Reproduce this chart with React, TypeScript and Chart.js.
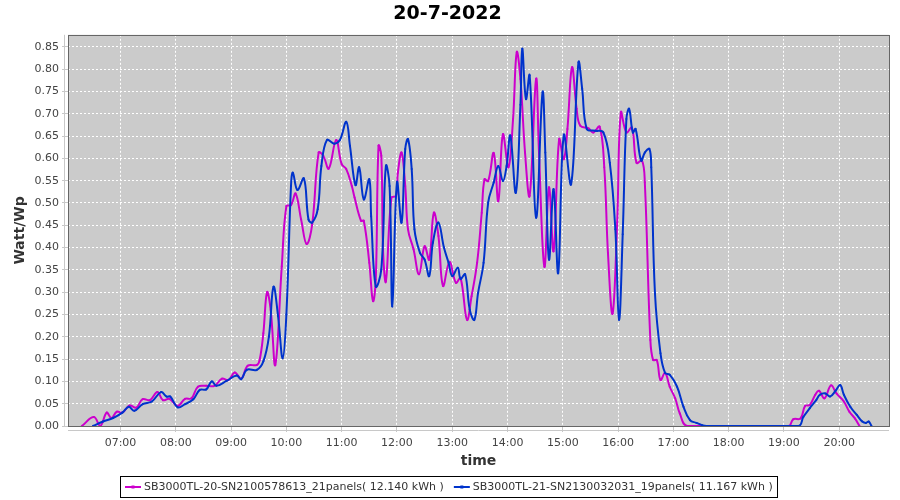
import React, { useEffect, useRef } from "react";
import { Chart, registerables } from "chart.js";

Chart.register(...registerables);

const TITLE = "20-7-2022";
const SERIES_A_LABEL = "SB3000TL-20-SN2100578613_21panels( 12.140 kWh )";
const SERIES_B_LABEL = "SB3000TL-21-SN2130032031_19panels( 11.167 kWh )";

// minutes since midnight
const TIMES_A = [378, 391, 398, 405, 410, 416, 422, 430, 437, 444, 452, 460, 466, 473, 482, 490, 497, 504, 513, 522, 530, 537, 544, 551, 558, 568, 571, 575, 579, 583, 588, 595, 600, 605, 610, 616, 622, 628, 635, 640, 646, 654, 660, 665, 671, 674, 681, 684, 690, 694, 697, 700, 703, 705, 708, 714, 719, 721, 725, 729, 732, 738, 744, 750, 755, 760, 765, 770, 777, 784, 789, 796, 801, 807, 812, 815, 819, 825, 830, 835, 841, 846, 850, 854, 859, 864, 871, 874, 880, 885, 890, 896, 901, 905, 910, 915, 919, 928, 933, 940, 945, 949, 954, 959, 963, 969, 975, 980, 986, 989, 995, 998, 1002, 1006, 1011, 1016, 1022, 1027, 1035, 1090, 1145, 1150, 1158, 1163, 1168, 1174, 1178, 1184, 1191, 1197, 1205, 1211, 1217, 1222];
const VALUES_A = [0, 0.02, 0, 0.03, 0.018, 0.032, 0.03, 0.046, 0.041, 0.06, 0.058, 0.076, 0.058, 0.061, 0.045, 0.061, 0.062, 0.088, 0.09, 0.09, 0.106, 0.103, 0.12, 0.106, 0.135, 0.137, 0.148, 0.208, 0.3, 0.26, 0.137, 0.358, 0.493, 0.495, 0.521, 0.463, 0.408, 0.452, 0.613, 0.606, 0.577, 0.641, 0.587, 0.576, 0.538, 0.512, 0.46, 0.46, 0.366, 0.28, 0.328, 0.628, 0.606, 0.388, 0.324, 0.512, 0.516, 0.568, 0.613, 0.538, 0.441, 0.396, 0.34, 0.403, 0.373, 0.478, 0.426, 0.314, 0.368, 0.321, 0.332, 0.238, 0.291, 0.366, 0.478, 0.553, 0.549, 0.612, 0.504, 0.654, 0.58, 0.688, 0.838, 0.778, 0.613, 0.516, 0.778, 0.621, 0.357, 0.535, 0.392, 0.643, 0.598, 0.666, 0.804, 0.711, 0.673, 0.667, 0.658, 0.671, 0.58, 0.388, 0.252, 0.456, 0.703, 0.658, 0.669, 0.59, 0.595, 0.546, 0.193, 0.148, 0.148, 0.103, 0.119, 0.088, 0.062, 0.028, 0, 0, 0, 0.015, 0.017, 0.045, 0.047, 0.07, 0.079, 0.062, 0.091, 0.073, 0.055, 0.032, 0.017, 0];

const TIMES_B = [390, 401, 412, 422, 429, 435, 444, 454, 464, 470, 474, 482, 490, 499, 506, 513, 519, 524, 535, 546, 551, 557, 568, 575, 581, 586, 591, 596, 600, 605, 607, 612, 619, 624, 628, 634, 638, 644, 652, 658, 665, 669, 675, 679, 684, 690, 692, 697, 703, 708, 712, 715, 720, 725, 729, 732, 736, 739, 745, 750, 755, 759, 765, 771, 776, 780, 786, 789, 794, 799, 804, 808, 814, 819, 825, 830, 835, 839, 843, 849, 854, 856, 860, 864, 871, 878, 881, 885, 890, 895, 901, 909, 917, 921, 926, 935, 944, 951, 957, 961, 965, 969, 972, 976, 979, 985, 989, 994, 996, 1000, 1006, 1011, 1016, 1024, 1031, 1038, 1045, 1051, 1056, 1105, 1156, 1161, 1168, 1175, 1179, 1185, 1190, 1196, 1201, 1205, 1212, 1219, 1225, 1229, 1232, 1235];
const VALUES_B = [0, 0.01, 0.018, 0.03, 0.043, 0.034, 0.049, 0.055, 0.076, 0.066, 0.066, 0.042, 0.049, 0.06, 0.081, 0.082, 0.1, 0.09, 0.101, 0.113, 0.105, 0.126, 0.126, 0.145, 0.2, 0.312, 0.246, 0.152, 0.25, 0.538, 0.568, 0.529, 0.555, 0.463, 0.456, 0.486, 0.583, 0.641, 0.633, 0.641, 0.682, 0.628, 0.54, 0.58, 0.508, 0.553, 0.47, 0.313, 0.351, 0.583, 0.538, 0.268, 0.546, 0.456, 0.621, 0.643, 0.576, 0.441, 0.388, 0.373, 0.336, 0.411, 0.456, 0.4, 0.366, 0.336, 0.355, 0.33, 0.34, 0.261, 0.238, 0.298, 0.366, 0.501, 0.546, 0.583, 0.549, 0.583, 0.651, 0.523, 0.72, 0.846, 0.733, 0.786, 0.467, 0.748, 0.613, 0.373, 0.531, 0.343, 0.652, 0.542, 0.815, 0.756, 0.666, 0.662, 0.658, 0.59, 0.441, 0.238, 0.43, 0.688, 0.711, 0.658, 0.666, 0.595, 0.613, 0.621, 0.58, 0.298, 0.163, 0.119, 0.115, 0.088, 0.043, 0.013, 0.007, 0.002, 0, 0, 0, 0.02, 0.04, 0.058, 0.07, 0.073, 0.066, 0.079, 0.092, 0.07, 0.043, 0.025, 0.01, 0.007, 0.01, 0];

const HOUR_TICKS = [7, 8, 9, 10, 11, 12, 13, 14, 15, 16, 17, 18, 19, 20];
const X_MIN = 363;
const X_MAX = 1254;
const Y_MIN = 0;
const Y_MAX = 0.877;
const Y_STEP = 0.05;

const COLOR_A = "#cc00cc";
const COLOR_B = "#0033cc";
const FONT = "'DejaVu Sans', sans-serif";

const plotFrame = {
  id: "plotFrame",
  beforeDraw(chart: any) {
    const { ctx, chartArea: a } = chart;
    ctx.save();
    ctx.fillStyle = "#ffffff";
    ctx.fillRect(0, 0, chart.width, chart.height);
    ctx.fillStyle = "#cbcbcb";
    ctx.fillRect(a.left, a.top, a.right - a.left, a.bottom - a.top);
    ctx.restore();
  },
  afterDraw(chart: any) {
    const { ctx, chartArea: a } = chart;
    ctx.save();
    ctx.strokeStyle = "#666666";
    ctx.lineWidth = 1;
    ctx.strokeRect(Math.round(a.left) + 0.5, Math.round(a.top) + 0.5, Math.round(a.right - a.left), Math.round(a.bottom - a.top));
    // offset axis lines
    ctx.strokeStyle = "#c8c8c8";
    ctx.beginPath();
    ctx.moveTo(Math.round(a.left) - 3.5, a.top);
    ctx.lineTo(Math.round(a.left) - 3.5, a.bottom);
    ctx.moveTo(a.left, Math.round(a.bottom) + 4.5);
    ctx.lineTo(a.right, Math.round(a.bottom) + 4.5);
    ctx.stroke();

    // legend
    const items = chart.data.datasets.map((d: any) => ({ text: d.label, color: d.borderColor }));
    ctx.font = "11px " + FONT;
    const symW = 16;
    const gap = 3;
    const spacing = 10;
    const widths = items.map((it: any) => symW + gap + ctx.measureText(it.text).width);
    const total = widths.reduce((s: number, w: number) => s + w, 0) + spacing * (items.length - 1);
    const cy = 487;
    let x = Math.round(448.5 - total / 2);
    ctx.strokeStyle = "#000000";
    ctx.lineWidth = 1;
    ctx.strokeRect(x - 4.5, cy - 10.5, Math.round(total) + 9, 21);
    ctx.textBaseline = "middle";
    ctx.textAlign = "left";
    items.forEach((it: any, i: number) => {
      ctx.strokeStyle = it.color;
      ctx.lineWidth = 2;
      ctx.beginPath();
      ctx.moveTo(x, cy);
      ctx.lineTo(x + symW, cy);
      ctx.stroke();
      ctx.fillStyle = it.color;
      ctx.fillRect(x + symW / 2 - 1.5, cy - 1.5, 3, 3);
      ctx.fillStyle = "#333333";
      ctx.fillText(it.text, x + symW + gap, cy + 0.5);
      x += widths[i] + spacing;
    });
    ctx.restore();
  },
};

function pad2(n: number) {
  return n < 10 ? "0" + n : "" + n;
}

export default function App() {
  const ref = useRef<HTMLCanvasElement | null>(null);
  useEffect(() => {
    if (!ref.current) return;
    const dataA = TIMES_A.map((t, i) => ({ x: t, y: VALUES_A[i] }));
    const dataB = TIMES_B.map((t, i) => ({ x: t, y: VALUES_B[i] }));
    const chart = new Chart(ref.current, {
      type: "line",
      data: {
        datasets: [
          {
            label: SERIES_A_LABEL,
            data: dataA,
            borderColor: COLOR_A,
            backgroundColor: COLOR_A,
            borderWidth: 2,
            pointRadius: 1,
            pointBorderWidth: 0,
            tension: 0.4,
            order: 1,
          },
          {
            label: SERIES_B_LABEL,
            data: dataB,
            borderColor: COLOR_B,
            backgroundColor: COLOR_B,
            borderWidth: 2,
            pointRadius: 1,
            pointBorderWidth: 0,
            tension: 0.4,
            order: 0,
          },
        ],
      },
      options: {
        animation: false,
        responsive: true,
        maintainAspectRatio: false,
        layout: { padding: { left: 6, right: 11, top: 0, bottom: 30 } },
        plugins: {
          title: {
            display: true,
            text: TITLE,
            color: "#000000",
            font: { family: FONT, size: 19, weight: "bold" },
            padding: { top: 3, bottom: 9 },
          },
          legend: { display: false },
          tooltip: { enabled: false },
        },
        scales: {
          x: {
            type: "linear",
            min: X_MIN,
            max: X_MAX,
            afterFit: (s: any) => {
              s.height = 44;
            },
            afterBuildTicks: (s: any) => {
              s.ticks = HOUR_TICKS.map((h) => ({ value: h * 60 }));
            },
            ticks: {
              color: "#444444",
              font: { family: FONT, size: 11 },
              maxRotation: 0,
              autoSkip: false,
              padding: 5,
              callback: (v: any) => pad2(Math.round(Number(v) / 60)) + ":00",
            },
            grid: {
              color: "#ffffff",
              lineWidth: 1,
              tickLength: 6,
              tickColor: "#c8c8c8",
            },
            border: { display: false, dash: [2, 2] },
            title: {
              display: true,
              text: "time",
              color: "#333333",
              font: { family: FONT, size: 14, weight: "bold" },
              padding: { top: 2, bottom: 0 },
            },
          },
          y: {
            type: "linear",
            min: Y_MIN,
            max: Y_MAX,
            afterFit: (s: any) => {
              s.width = 62;
            },
            afterBuildTicks: (s: any) => {
              const ticks: any[] = [];
              for (let v = Y_MIN; v <= Y_MAX + 1e-9; v += Y_STEP) {
                ticks.push({ value: Math.round(v * 100) / 100 });
              }
              s.ticks = ticks;
            },
            ticks: {
              color: "#444444",
              font: { family: FONT, size: 11 },
              padding: 3,
              callback: (v: any) => Number(v).toFixed(2),
            },
            grid: {
              color: "#ffffff",
              lineWidth: 1,
              tickLength: 6,
              tickColor: "#c8c8c8",
            },
            border: { display: false, dash: [2, 2] },
            title: {
              display: true,
              text: "Watt/Wp",
              color: "#333333",
              font: { family: FONT, size: 14, weight: "bold" },
              padding: { top: 6, bottom: 2 },
            },
          },
        },
      },
      plugins: [plotFrame],
    } as any);
    return () => chart.destroy();
  }, []);

  return (
    <div style={{ position: "absolute", left: 0, top: 0, width: 900, height: 500 }}>
      <canvas ref={ref} />
    </div>
  );
}
